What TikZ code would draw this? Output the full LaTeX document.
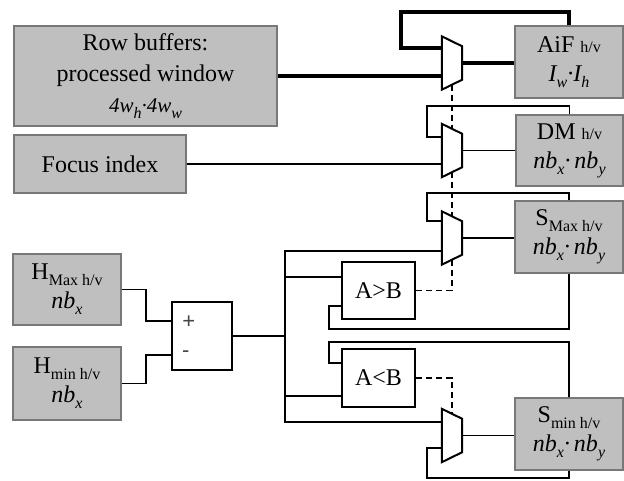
\documentclass[tikz,border=0pt]{standalone}
\usepackage{fontspec}
\setmainfont{Liberation Serif}
\newfontfamily\signfont{Liberation Sans}
\usetikzlibrary{calc}
\definecolor{boxgray}{RGB}{191,191,191}
\definecolor{edgegray}{RGB}{120,120,120}
\definecolor{signgray}{RGB}{70,70,70}
% lowered subscript and small index tag
\newcommand\lowsub[1]{\raisebox{-6pt}{\fontsize{16}{16}\selectfont #1}}
\newcommand\smalltag[1]{{\fontsize{16}{16}\selectfont #1}}
% multiplexer outline inside a named bounding node
\newcommand\muxshape[1]{\draw[line width=2pt, fill=white] (#1.north west) -- ([yshift=-10pt]#1.north east) -- ([yshift=10pt]#1.south east) -- (#1.south west) -- cycle;}

\begin{document}
\begin{tikzpicture}[x=1pt,y=-1pt,
  store/.style={draw=edgegray, line width=1.2pt, fill=boxgray, inner sep=0pt, align=center, font=\fontsize{24}{29}\selectfont},
  unit/.style={draw=black, line width=2.2pt, fill=white, inner sep=0pt, font=\fontsize{24}{28}\selectfont},
  muxbox/.style={inner sep=0pt, minimum width=20pt, minimum height=53pt},
  wire/.style={line width=1.6pt},
  heavy/.style={line width=4.5pt},
  sel/.style={line width=1.6pt, dash pattern=on 6pt off 4pt},
  sign/.style={font=\signfont\fontsize{22}{22}\selectfont, text=signgray, inner sep=0pt},
]
\useasboundingbox (0,0) rectangle (624,480);

% storage blocks
\node[store, minimum width=263pt, minimum height=100pt, font=\fontsize{24}{31}\selectfont] (rowbuf) at (145.5,76)
  {Row buffers:\\processed window\\{\fontsize{21}{31}\selectfont\itshape 4w\lowsub{h}·4w\lowsub{w}}};
\node[store, minimum width=172pt, minimum height=58pt] (focus) at (100,164) {Focus index};
\node[store, minimum width=108pt, minimum height=71pt] (hmax) at (67,289.5)
  {H\lowsub{Max h/v}\\{\itshape nb\lowsub{x}}};
\node[store, minimum width=108pt, minimum height=73pt] (hmin) at (67,383.5)
  {H\lowsub{min h/v}\\{\itshape nb\lowsub{x}}};
\node[store, minimum width=108pt, minimum height=72pt] (aif) at (569,62)
  {AiF \smalltag{h/v}\\{\itshape I\lowsub{w}·I\lowsub{h}}};
\node[store, minimum width=107pt, minimum height=71pt] (dm) at (569.5,150.5)
  {DM \smalltag{h/v}\\{\itshape nb\lowsub{x}·\,nb\lowsub{y}}};
\node[store, minimum width=108pt, minimum height=72pt] (smax) at (569,237)
  {S\lowsub{Max h/v}\\{\itshape nb\lowsub{x}·\,nb\lowsub{y}}};
\node[store, minimum width=108pt, minimum height=72pt] (smin) at (569,434)
  {S\lowsub{min h/v}\\{\itshape nb\lowsub{x}·\,nb\lowsub{y}}};

% arithmetic and comparator units
\node[unit, minimum width=60pt, minimum height=68pt] (sub) at (202,336) {};
\node[sign] (plus) at ($(sub.west)+(18,-14)$) {+};
\node[sign] (minus) at ($(sub.west)+(15,18)$) {-};
\node[unit, minimum width=73pt, minimum height=57pt] (gt) at (378.5,290.5) {A>B};
\node[unit, minimum width=73pt, minimum height=58pt] (lt) at (378.5,378) {A<B};

% multiplexer frames
\node[muxbox] (m1) at (452,63) {};
\node[muxbox] (m2) at (452,150.5) {};
\node[muxbox] (m3) at (452,238) {};
\node[muxbox] (m4) at (452,435.5) {};

% helper points
\coordinate (bus) at (285,336);
\coordinate (gtin) at ($(gt.west)+(0,-13.5)$);
\coordinate (gtfb) at ($(gt.west)+(0,15.5)$);
\coordinate (ltin) at ($(lt.west)+(0,18)$);
\coordinate (ltfb) at ($(lt.west)+(0,-15)$);

% all-in-focus path (wide)
\draw[heavy] (rowbuf.east) -- (rowbuf.east -| m1.west);
\draw[heavy] (aif.north) |- (401,12) |- ($(m1.west)+(0,-15)$);
\draw[heavy] (m1.east) -- (m1.east -| aif.west);

% depth map path
\draw[wire] (focus.east) -- (focus.east -| m2.west);
\draw[wire] (dm.north) |- (427,106) |- ($(m2.west)+(0,-13.5)$);
\draw[wire] (m2.east) -- (dm.west);

% maximum sharpness path
\draw[wire] (smax.north) |- (427,193) |- ($(m3.west)+(0,-17)$);
\draw[wire] (m3.east) -- (m3.east -| smax.west);

% minimum sharpness path
\draw[wire] (smin.south) |- (427,478) |- ($(m4.west)+(0,12.5)$);
\draw[wire] (m4.east) -- (m4.east -| smin.west);

% difference stage
\draw[wire] (hmax.east) -| ($(sub.west)+(-25,-15)$) -- ($(sub.west)+(0,-15)$);
\draw[wire] (hmin.east) -| ($(sub.west)+(-25,19)$) -- ($(sub.west)+(0,19)$);
\draw[wire] (sub.east) -- (bus);
\draw[wire] ($(m3.west)+(0,13)$) -| (bus) |- ($(m4.west)+(0,-13.5)$);

% comparators
\draw[wire] (gtin -| bus) -- (gtin);
\draw[wire] (ltin -| bus) -- (ltin);
\draw[wire] (smax.south) |- (329,329) |- (gtfb);
\draw[wire] (smin.north) |- (329,342) |- (ltfb);

% select lines
\draw[sel] ([yshift=5pt]m1.south) -- ([yshift=-5pt]m2.north);
\draw[sel] ([yshift=5pt]m2.south) -- ([yshift=-5pt]m3.north);
\draw[sel] (gt.east) -| ([yshift=5pt]m3.south);
\draw[sel] (lt.east) -| ([yshift=-5pt]m4.north);

\muxshape{m1}
\muxshape{m2}
\muxshape{m3}
\muxshape{m4}
\end{tikzpicture}
\end{document}
